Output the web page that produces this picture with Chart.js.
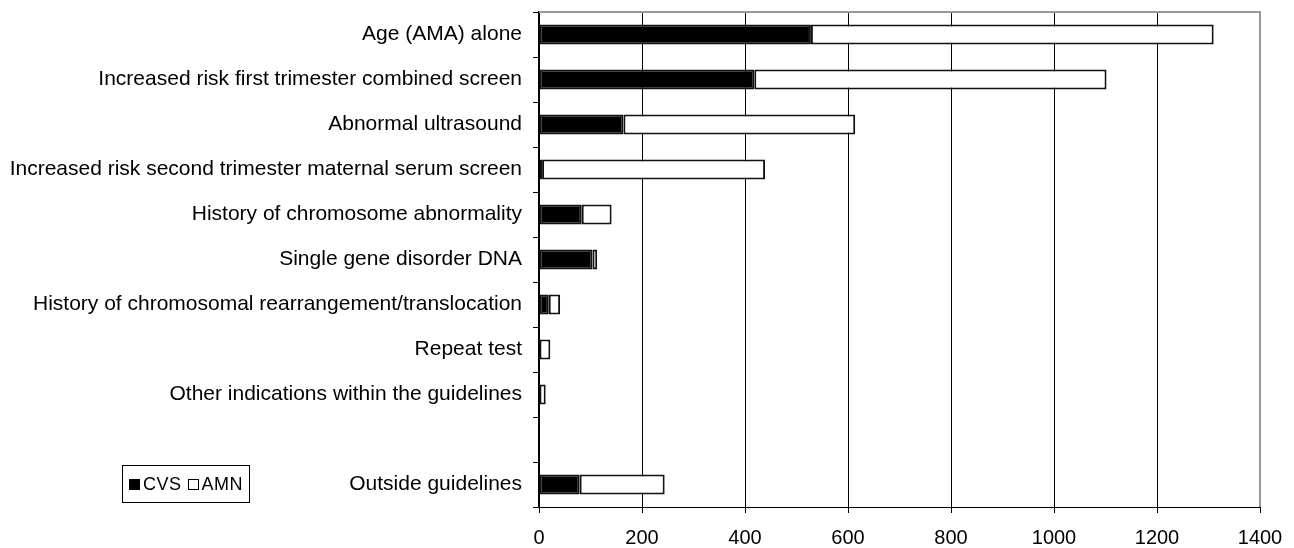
<!DOCTYPE html>
<html>
<head>
<meta charset="utf-8">
<script src="https://cdn.jsdelivr.net/npm/chart.js@4.4.0/dist/chart.umd.min.js"></script>
<style>
  html, body { margin: 0; padding: 0; background: #fff; }
  #wrap { position: relative; width: 1294px; height: 548px; }
  #legend {
    position: absolute; left: 122px; top: 465px; width: 128px; height: 38px;
    border: 1px solid #000; box-sizing: border-box;
    font-family: "Liberation Sans", Arial, sans-serif; font-size: 18px; color: #000;
    display: flex; align-items: center; justify-content: center; gap: 6px;
    letter-spacing: 0.5px;
  }
  .sw { display: inline-block; width: 11px; height: 11px; box-sizing: border-box; border: 1px solid #000; margin-right: 3px; }
</style>
</head>
<body>
<div id="wrap">
  <canvas id="chart" width="1294" height="548"></canvas>
  <div id="legend"><span><span class="sw" style="background:#000"></span>CVS</span><span><span class="sw" style="background:#fff"></span>AMN</span></div>
</div>
<script>
// indications for prenatal testing
const categories = [
    "Age (AMA) alone",
    "Increased risk first trimester combined screen",
    "Abnormal ultrasound",
    "Increased risk second trimester maternal serum screen",
    "History of chromosome abnormality",
    "Single gene disorder DNA",
    "History of chromosomal rearrangement/translocation",
    "Repeat test",
    "Other indications within the guidelines",
    "",
    "Outside guidelines"
];
const cvsValues = [528, 418, 164, 6, 83, 104, 19, 1, 1, null, 79];
const amnValues = [782, 684, 450, 433, 58, 9, 22, 21, 12, null, 165];
const xTicks = [0, 200, 400, 600, 800, 1000, 1200, 1400];

const FONT = "'Liberation Sans', Arial, sans-serif";

// gray frame on top and right of the plot
const framePlugin = {
    id: 'frame',
    afterDatasetsDraw(chart) {
        const { ctx, chartArea: a } = chart;
        ctx.save();
        ctx.strokeStyle = '#999';
        ctx.lineWidth = 2;
        ctx.beginPath();
        ctx.moveTo(a.left, a.top);
        ctx.lineTo(a.right, a.top);
        ctx.lineTo(a.right, a.bottom);
        ctx.stroke();
        ctx.restore();
    }
};

new Chart(document.getElementById('chart'), {
    type: 'bar',
    data: {
        labels: categories,
        datasets: [{
            label: 'CVS',
            data: cvsValues,
            backgroundColor: '#000',
            borderColor: '#111',
            borderWidth: 2,
            borderSkipped: false,
            barPercentage: 0.44,
            categoryPercentage: 1
        }, {
            label: 'AMN',
            data: amnValues,
            backgroundColor: '#fff',
            borderColor: '#111',
            borderWidth: 2,
            borderSkipped: false,
            barPercentage: 0.44,
            categoryPercentage: 1
        }]
    },
    options: {
        indexAxis: 'y',
        responsive: false,
        animation: false,
        layout: { padding: { top: 12, right: 34, left: 0, bottom: 0 } },
        plugins: {
            legend: { display: false },
            tooltip: { enabled: false }
        },
        scales: {
            x: {
                stacked: true,
                min: 0,
                max: 1400,
                afterBuildTicks(scale) {
                    scale.ticks = xTicks.map(v => ({ value: v }));
                },
                afterFit(scale) {
                    scale.height = 41;
                    scale.paddingLeft = 0;
                    scale.paddingRight = 0;
                },
                grid: { color: '#000', lineWidth: 1, tickLength: 6 },
                border: { color: '#000', width: 1 },
                ticks: {
                    color: '#000', padding: 13,
                    font: { family: FONT, size: 20 },
                    callback: v => String(v)
                }
            },
            y: {
                stacked: true,
                afterFit(scale) {
                    scale.width = 539;
                    scale.paddingTop = 0;
                    scale.paddingBottom = 0;
                },
                grid: { drawOnChartArea: false, color: '#000', tickLength: 6, offset: true },
                border: { color: '#000', width: 1.5 },
                ticks: { color: '#000', padding: 11, autoSkip: false, font: { family: FONT, size: 21 } }
            }
        }
    },
    plugins: [framePlugin]
});
</script>
</body>
</html>
